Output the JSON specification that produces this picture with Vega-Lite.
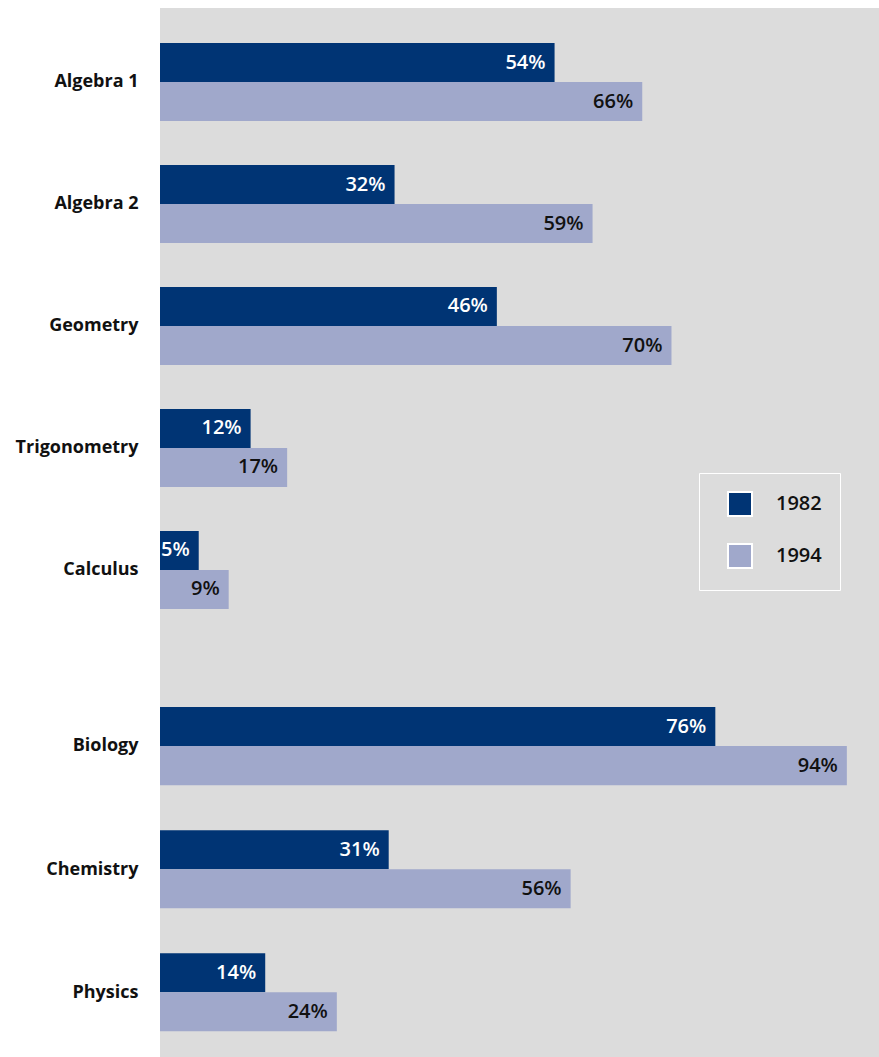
{
  "$schema": "https://vega.github.io/schema/vega-lite/v6.json",
  "padding": {"left": 0, "top": 8, "right": 0, "bottom": 0},
  "spacing": 0,
  "background": "white",
  "config": {
    "view": {"fill": "#dcdcdc", "stroke": null},
    "font": "Open Sans",
    "concat": {"spacing": 0}
  },
  "datasets": {
    "math": [
      {"subject": "Algebra 1", "year": "1982", "share": 0.54},
      {"subject": "Algebra 1", "year": "1994", "share": 0.66},
      {"subject": "Algebra 2", "year": "1982", "share": 0.321},
      {"subject": "Algebra 2", "year": "1994", "share": 0.592},
      {"subject": "Geometry", "year": "1982", "share": 0.461},
      {"subject": "Geometry", "year": "1994", "share": 0.70},
      {"subject": "Trigonometry", "year": "1982", "share": 0.124},
      {"subject": "Trigonometry", "year": "1994", "share": 0.174},
      {"subject": "Calculus", "year": "1982", "share": 0.053},
      {"subject": "Calculus", "year": "1994", "share": 0.094}
    ],
    "science": [
      {"subject": "Biology", "year": "1982", "share": 0.76},
      {"subject": "Biology", "year": "1994", "share": 0.94},
      {"subject": "Chemistry", "year": "1982", "share": 0.313},
      {"subject": "Chemistry", "year": "1994", "share": 0.562},
      {"subject": "Physics", "year": "1982", "share": 0.144},
      {"subject": "Physics", "year": "1994", "share": 0.242}
    ]
  },
  "vconcat": [
    {
      "width": 719,
      "height": 636,
      "data": {"name": "math"},
      "encoding": {
        "y": {
          "field": "subject", "type": "nominal", "sort": null,
          "scale": {"paddingInner": 0.36, "paddingOuter": 0.287},
          "axis": {"title": null, "ticks": false, "domain": false, "grid": false, "labelPadding": 22, "labelFontSize": 18, "labelFontWeight": "bold", "labelColor": "#111111", "labelFont": "Open Sans", "minExtent": 160, "maxExtent": 160}
        },
        "yOffset": {"field": "year", "type": "nominal", "scale": {"paddingInner": 0, "paddingOuter": 0}},
        "x": {"field": "share", "type": "quantitative", "scale": {"domain": [0, 0.984], "nice": false, "zero": true}, "axis": null}
      },
      "layer": [
        {
          "mark": {"type": "bar"},
          "encoding": {
            "color": {
              "field": "year", "type": "nominal",
              "scale": {"domain": ["1982", "1994"], "range": ["#003474", "#a0a8cb"]},
              "legend": {
                "title": null, "orient": "none", "legendX": 539, "legendY": 465,
                "symbolType": "square", "symbolSize": 576, "symbolStrokeColor": "white", "symbolStrokeWidth": 2,
                "strokeColor": "white", "padding": 18, "symbolOffset": 10,
                "labelOffset": 23, "labelFontSize": 20, "labelFontWeight": 600, "labelFont": "Open Sans", "labelColor": "#111111", "rowPadding": 20
              }
            }
          }
        },
        {
          "mark": {"type": "text", "align": "right", "baseline": "middle", "dx": -9, "fontSize": 20, "fontWeight": 600, "font": "Open Sans"},
          "encoding": {
            "text": {"field": "share", "type": "quantitative", "format": ".0%"},
            "color": {"condition": {"test": "datum.year == '1982'", "value": "white"}, "value": "#111111"}
          }
        }
      ]
    },
    {
      "width": 719,
      "height": 413,
      "data": {"name": "science"},
      "encoding": {
        "y": {
          "field": "subject", "type": "nominal", "sort": null,
          "scale": {"paddingInner": 0.36, "paddingOuter": 0.358, "align": 0.716},
          "axis": {"title": null, "ticks": false, "domain": false, "grid": false, "labelPadding": 22, "labelFontSize": 18, "labelFontWeight": "bold", "labelColor": "#111111", "labelFont": "Open Sans", "minExtent": 160, "maxExtent": 160}
        },
        "yOffset": {"field": "year", "type": "nominal", "scale": {"paddingInner": 0, "paddingOuter": 0}},
        "x": {"field": "share", "type": "quantitative", "scale": {"domain": [0, 0.984], "nice": false, "zero": true}, "axis": null}
      },
      "layer": [
        {
          "mark": {"type": "bar"},
          "encoding": {
            "color": {
              "field": "year", "type": "nominal",
              "scale": {"domain": ["1982", "1994"], "range": ["#003474", "#a0a8cb"]},
              "legend": null
            }
          }
        },
        {
          "mark": {"type": "text", "align": "right", "baseline": "middle", "dx": -9, "fontSize": 20, "fontWeight": 600, "font": "Open Sans"},
          "encoding": {
            "text": {"field": "share", "type": "quantitative", "format": ".0%"},
            "color": {"condition": {"test": "datum.year == '1982'", "value": "white"}, "value": "#111111"}
          }
        }
      ]
    }
  ],
  "resolve": {"scale": {"y": "independent", "x": "shared"}, "legend": {"color": "independent"}}
}
